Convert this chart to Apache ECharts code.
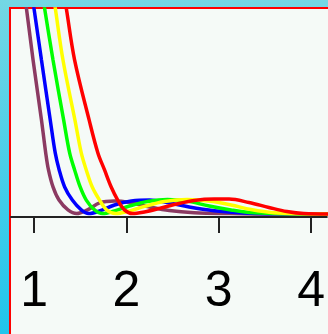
<!DOCTYPE html>
<html>
<head>
<meta charset="utf-8">
<script src="https://cdn.jsdelivr.net/npm/echarts@6/dist/echarts.min.js"></script>
<style>
  html, body { margin: 0; padding: 0; }
  body {
    width: 328px; height: 334px; position: relative; overflow: hidden;
    background: linear-gradient(to bottom, #74d7e4, #20c5ec);
  }
  #panel {
    position: absolute; left: 9px; top: 7px; right: 0; bottom: 0;
    background: #f5faf7;
    border-top: 2px solid #ff0000; border-left: 2px solid #ff0000;
  }
  #chart { position: absolute; left: 0; top: 0; width: 328px; height: 334px; }
</style>
</head>
<body>
<div id="panel"></div>
<div id="chart"></div>
<script>
// Five density curves: steep fall, zero crossing, one small secondary hump, flat tail.
const tickValues = [1, 2, 3, 4];

const xPurple = [0.857, 0.918, 0.989, 1.080, 1.126, 1.156, 1.205, 1.270, 1.367, 1.461, 1.579, 1.709, 1.871, 2.033, 2.227, 2.464, 2.734, 3.112, 3.651, 4.19];
const yPurple = [1.19, 1.000, 0.751, 0.459, 0.298, 0.215, 0.132, 0.068, 0.020, 0.002, 0.020, 0.054, 0.063, 0.056, 0.037, 0.017, 0.006, 0.002, 0.0, 0.0];

const xBlue = [0.943, 1.000, 1.080, 1.175, 1.229, 1.272, 1.331, 1.414, 1.511, 1.590, 1.709, 1.871, 2.054, 2.249, 2.443, 2.680, 2.950, 3.274, 3.651, 4.19];
const yBlue = [1.18, 1.000, 0.751, 0.459, 0.298, 0.215, 0.132, 0.068, 0.020, 0.002, 0.015, 0.044, 0.063, 0.068, 0.056, 0.034, 0.016, 0.005, 0.001, 0.0];

const xGreen = [1.051, 1.115, 1.205, 1.320, 1.385, 1.439, 1.499, 1.565, 1.655, 1.741, 1.871, 2.033, 2.227, 2.443, 2.659, 2.896, 3.133, 3.382, 3.759, 4.19];
const yGreen = [1.18, 1.000, 0.751, 0.459, 0.298, 0.215, 0.132, 0.068, 0.020, 0.002, 0.015, 0.039, 0.061, 0.071, 0.063, 0.039, 0.020, 0.006, 0.001, 0.0];

const xYellow = [1.169, 1.231, 1.313, 1.442, 1.511, 1.565, 1.630, 1.709, 1.785, 1.882, 2.011, 2.195, 2.410, 2.659, 2.896, 3.133, 3.349, 3.597, 3.921, 4.19];
const yYellow = [1.19, 1.000, 0.751, 0.459, 0.298, 0.215, 0.132, 0.068, 0.020, 0.002, 0.012, 0.037, 0.061, 0.071, 0.063, 0.044, 0.022, 0.006, 0.001, 0.0];

const xRed = [1.288, 1.350, 1.439, 1.596, 1.691, 1.763, 1.835, 1.906, 1.979, 2.065, 2.195, 2.356, 2.518, 2.734, 2.950, 3.112, 3.328, 3.543, 3.738, 3.921, 4.19];
const yRed = [1.17, 1.000, 0.751, 0.459, 0.298, 0.215, 0.132, 0.068, 0.020, 0.002, 0.010, 0.027, 0.046, 0.066, 0.073, 0.073, 0.056, 0.032, 0.012, 0.002, 0.0];

const curves = [
  { name: 'a', xs: xPurple, ys: yPurple, color: '#8b3a62' },
  { name: 'b', xs: xBlue,   ys: yBlue,   color: '#0000ff' },
  { name: 'c', xs: xGreen,  ys: yGreen,  color: '#00ff00' },
  { name: 'd', xs: xYellow, ys: yYellow, color: '#ffff00' },
  { name: 'e', xs: xRed,    ys: yRed,    color: '#ff0000' }
];

const zip = (xs, ys) => xs.map((x, i) => [x, ys[i]]);

const chart = echarts.init(document.getElementById('chart'), null, { renderer: 'canvas' });
chart.setOption({
  animation: false,
  backgroundColor: 'transparent',
  grid: { left: 11, right: 0, top: 9, bottom: 117, containLabel: false },
  xAxis: {
    type: 'value',
    min: 0.75,
    max: 4.17,
    axisLine: { show: true, onZero: false, lineStyle: { color: '#222', width: 2 } },
    axisTick: { show: true, length: 16, lineStyle: { color: '#222', width: 2 }, customValues: tickValues },
    axisLabel: {
      show: true, customValues: tickValues, margin: 50,
      fontFamily: 'Liberation Sans, Arial, sans-serif', fontSize: 50, color: '#000',
      showMinLabel: true, showMaxLabel: true
    },
    splitLine: { show: false }
  },
  yAxis: {
    type: 'value', min: -0.0146, max: 1, show: false,
    splitLine: { show: false }
  },
  series: curves.map(c => ({
    name: c.name,
    type: 'line',
    data: zip(c.xs, c.ys),
    smooth: 0.35,
    symbol: 'none',
    clip: true,
    lineStyle: { color: c.color, width: 3.5 }
  }))
});
</script>
</body>
</html>
